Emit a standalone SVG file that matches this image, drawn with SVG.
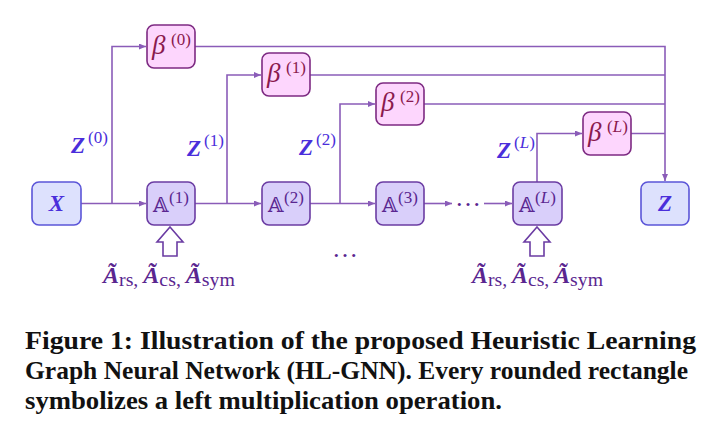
<svg xmlns="http://www.w3.org/2000/svg" width="715" height="442" viewBox="0 0 715 442">
<style>
.beta rect{fill:#fdd6fd;stroke:#7d2a82;stroke-width:1.6}
.op rect{fill:#d9cffa;stroke:#6b3ca3;stroke-width:1.6}
.io rect{fill:#dde1fd;stroke:#5b55d8;stroke-width:1.6}
.conn path{fill:none;stroke:#8a5cb8;stroke-width:1.6}
.hollow{fill:#ffffff;stroke:#6b3ca3;stroke-width:1.6}
.bt{font-family:"Liberation Serif",serif;font-style:italic;font-size:27px;fill:#8a1a4e}
.sup{font-family:"Liberation Serif",serif;font-style:normal;font-weight:normal;font-size:17px}
.at{font-family:"DejaVu Serif","DejaVu Sans",serif;font-size:20px;fill:#5a2690}
.zt{font-family:"Liberation Serif",serif;font-style:italic;font-weight:bold;font-size:23px;fill:#4a2edb}
.lab{font-family:"Liberation Serif",serif;font-size:23px;fill:#5a2690}
.bi{font-weight:bold;font-style:italic}
.sub{font-size:19px}
.dots{font-family:"Liberation Serif",serif;font-size:26px;fill:#5a2690}
.cap{font-family:"Liberation Serif",serif;font-weight:bold;font-size:25px;fill:#111111}
</style>
<defs>
<marker id="ah" markerUnits="userSpaceOnUse" markerWidth="8" markerHeight="7" refX="7" refY="3" orient="auto">
<path d="M0,0 L7,3 L0,6 z" fill="#8a5cb8"/>
</marker>
</defs>

<g id="connectors" class="conn">
<path d="M81,203.5 H146" marker-end="url(#ah)"/>
<path d="M112,203.5 V46.5 H146" marker-end="url(#ah)"/>
<path d="M195,46.5 H665 V181" marker-end="url(#ah)"/>
<path d="M195,203.5 H261" marker-end="url(#ah)"/>
<path d="M227,203.5 V75 H261" marker-end="url(#ah)"/>
<path d="M310,75 H665"/>
<path d="M310,203.5 H375" marker-end="url(#ah)"/>
<path d="M340,203.5 V104 H375" marker-end="url(#ah)"/>
<path d="M424,104 H665"/>
<path d="M424,203.5 H452" marker-end="url(#ah)"/>
<path d="M484,203.5 H512" marker-end="url(#ah)"/>
<path d="M537,182 V133.5 H582" marker-end="url(#ah)"/>
<path d="M631,133.5 H665"/>
</g>

<g id="X" class="io">
<rect x="32" y="182" width="49" height="43" rx="7"/>
<text class="zt" x="56.5" y="211" text-anchor="middle">X</text>
</g>
<g id="Z" class="io">
<rect x="641" y="182" width="48" height="43" rx="7"/>
<text class="zt" x="665" y="211" text-anchor="middle">Z</text>
</g>

<g id="beta0" class="beta">
<rect x="147" y="25" width="48" height="43" rx="7"/>
<text class="bt" x="152" y="54">β<tspan class="sup" x="171" y="45">(0)</tspan></text>
</g>
<g id="beta1" class="beta">
<rect x="262" y="53" width="48" height="43" rx="7"/>
<text class="bt" x="267" y="82">β<tspan class="sup" x="286" y="73">(1)</tspan></text>
</g>
<g id="beta2" class="beta">
<rect x="376" y="83" width="48" height="42" rx="7"/>
<text class="bt" x="381" y="111">β<tspan class="sup" x="400" y="102">(2)</tspan></text>
</g>
<g id="betaL" class="beta">
<rect x="583" y="112" width="48" height="43" rx="7"/>
<text class="bt" x="588" y="141">β<tspan class="sup" x="607" y="132">(<tspan font-style="italic">L</tspan>)</tspan></text>
</g>

<g id="A1" class="op">
<rect x="147" y="182" width="48" height="43" rx="7"/>
<text class="at" x="153" y="212">𝔸<tspan class="sup" x="169" y="203">(1)</tspan></text>
</g>
<g id="A2" class="op">
<rect x="262" y="182" width="48" height="43" rx="7"/>
<text class="at" x="268" y="212">𝔸<tspan class="sup" x="284" y="203">(2)</tspan></text>
</g>
<g id="A3" class="op">
<rect x="376" y="182" width="48" height="43" rx="7"/>
<text class="at" x="382" y="212">𝔸<tspan class="sup" x="398" y="203">(3)</tspan></text>
</g>
<g id="AL" class="op">
<rect x="513" y="182" width="49" height="43" rx="7"/>
<text class="at" x="519" y="212">𝔸<tspan class="sup" x="535" y="203">(<tspan font-style="italic">L</tspan>)</tspan></text>
</g>

<g id="dots-row">
<text class="dots" x="468" y="206" text-anchor="middle">…</text>
</g>
<g id="dots-below">
<text class="dots" x="345" y="257" text-anchor="middle">…</text>
</g>

<g id="z-labels">
<text class="zt" x="71" y="153">Z<tspan class="sup" x="88" y="143">(0)</tspan></text>
<text class="zt" x="187" y="156">Z<tspan class="sup" x="204" y="146">(1)</tspan></text>
<text class="zt" x="299" y="155">Z<tspan class="sup" x="316" y="145">(2)</tspan></text>
<text class="zt" x="497" y="158">Z<tspan class="sup" x="514" y="148">(<tspan font-style="italic">L</tspan>)</tspan></text>
</g>

<g id="input1">
<path class="hollow" d="M170,227 L183,242 L177,242 L177,256 L163,256 L163,242 L157,242 Z"/>
<text class="lab" x="103" y="283" textLength="132" lengthAdjust="spacingAndGlyphs"><tspan class="bi">Ã</tspan><tspan class="sub" dy="3">rs, </tspan><tspan class="bi" dy="-3">Ã</tspan><tspan class="sub" dy="3">cs, </tspan><tspan class="bi" dy="-3">Ã</tspan><tspan class="sub" dy="3">sym</tspan></text>
</g>
<g id="inputL">
<path class="hollow" d="M537,227 L550,242 L544,242 L544,256 L530,256 L530,242 L524,242 Z"/>
<text class="lab" x="472" y="283" textLength="131" lengthAdjust="spacingAndGlyphs"><tspan class="bi">Ã</tspan><tspan class="sub" dy="3">rs, </tspan><tspan class="bi" dy="-3">Ã</tspan><tspan class="sub" dy="3">cs, </tspan><tspan class="bi" dy="-3">Ã</tspan><tspan class="sub" dy="3">sym</tspan></text>
</g>

<g id="caption">
<text class="cap" x="25" y="349" textLength="671" lengthAdjust="spacingAndGlyphs">Figure 1: Illustration of the proposed Heuristic Learning</text>
<text class="cap" x="25" y="379" textLength="663" lengthAdjust="spacingAndGlyphs">Graph Neural Network (HL-GNN). Every rounded rectangle</text>
<text class="cap" x="25" y="409" textLength="477" lengthAdjust="spacingAndGlyphs">symbolizes a left multiplication operation.</text>
</g>
</svg>
